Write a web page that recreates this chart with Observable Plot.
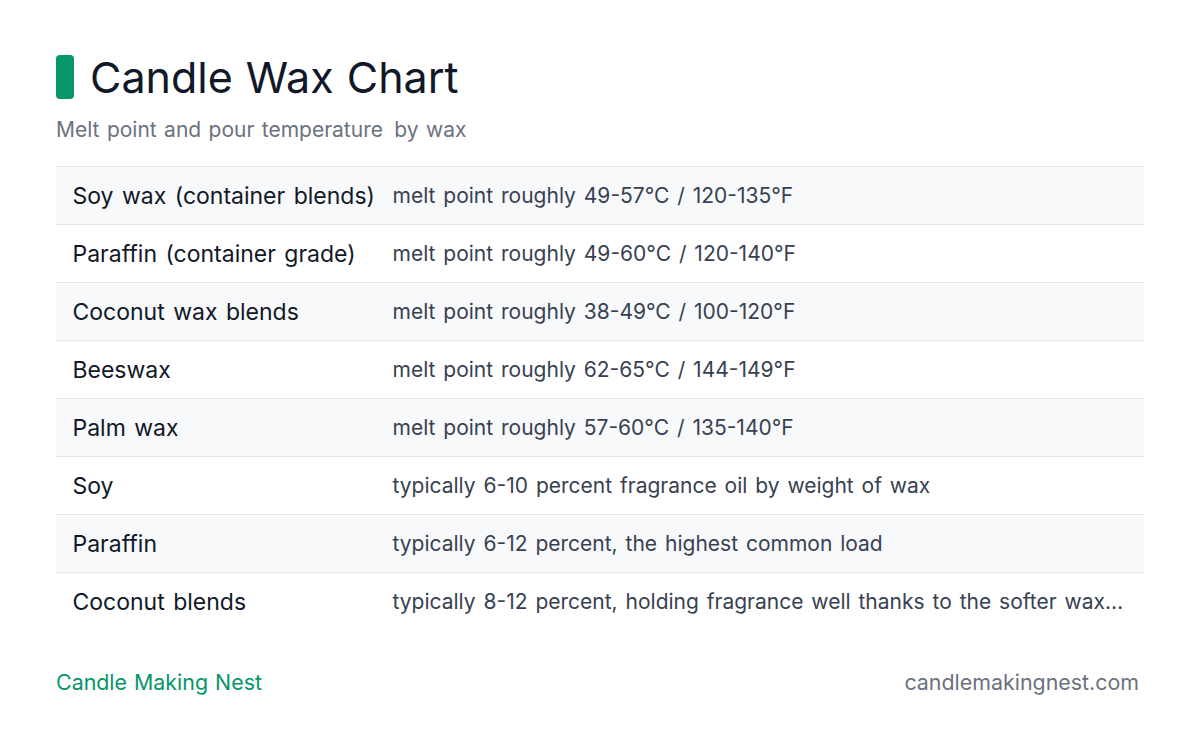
<!DOCTYPE html>
<html>
<head>
<meta charset="utf-8">
<script src="https://cdn.jsdelivr.net/npm/d3@7"></script>
<script src="https://cdn.jsdelivr.net/npm/@observablehq/plot@0.6"></script>
<style>
  html, body { margin: 0; padding: 0; background: #ffffff; }
  body { width: 1200px; height: 744px; position: relative; overflow: hidden; font-family: Inter, "Noto Sans", sans-serif; }
  .accent { position: absolute; left: 56px; top: 55px; width: 18px; height: 44px; border-radius: 4px; background: #059669; }
  .title { position: absolute; left: 90px; top: 53px; font-size: 43px; line-height: 48px; color: #111827; word-spacing: 1px; white-space: nowrap; }
  .subtitle { position: absolute; left: 56px; top: 117px; font-size: 21px; line-height: 26px; color: #6b7280; word-spacing: 1.5px; white-space: pre; }
  .subtitle span { margin-left: 4px; }
  #chart { position: absolute; left: 56px; top: 166px; }
  .foot-left { position: absolute; left: 56px; top: 668px; font-size: 21.4px; line-height: 28px; color: #059669; word-spacing: 1px; white-space: nowrap; }
  .foot-right { position: absolute; right: 61px; top: 668px; font-size: 21.4px; line-height: 28px; color: #6b7280; white-space: nowrap; }
</style>
</head>
<body>
<div class="accent"></div>
<div class="title">Candle Wax Chart</div>
<div class="subtitle">Melt point and pour temperature <span>by wax</span></div>
<div id="chart"></div>
<div class="foot-left">Candle Making Nest</div>
<div class="foot-right">candlemakingnest.com</div>
<script>
const labels = [
  "Soy wax (container blends)",
  "Paraffin (container grade)",
  "Coconut wax blends",
  "Beeswax",
  "Palm wax",
  "Soy",
  "Paraffin",
  "Coconut blends"
];
const details = [
  "melt point roughly 49-57°C / 120-135°F",
  "melt point roughly 49-60°C / 120-140°F",
  "melt point roughly 38-49°C / 100-120°F",
  "melt point roughly 62-65°C / 144-149°F",
  "melt point roughly 57-60°C / 135-140°F",
  "typically 6-10 percent fragrance oil by weight of wax",
  "typically 6-12 percent, the highest common load",
  "typically 8-12 percent, holding fragrance well thanks to the softer wax…"
];

const W = 1088, ROW_H = 58;
const rows = labels.map((label, i) => ({key: String(i), label, detail: details[i], shaded: i % 2 === 0}));

const chart = Plot.plot({
  width: W,
  height: ROW_H * rows.length,
  margin: 0,
  style: {fontFamily: "Inter, 'Noto Sans', sans-serif", background: "transparent", overflow: "visible", wordSpacing: "2px"},
  y: {type: "band", domain: rows.map(d => d.key), padding: 0, round: false, axis: null},
  marks: [
    Plot.cell(rows.filter(d => d.shaded), {y: "key", fill: "#f8f9fb", inset: 0}),
    Plot.ruleY(rows, {y: "key", dy: -ROW_H / 2, stroke: "#e5e7eb", strokeWidth: 1}),
    Plot.text(rows, {y: "key", text: "label", frameAnchor: "left", textAnchor: "start", dx: 16, dy: 1, fontSize: 23, fill: "#111827"}),
    Plot.text(rows, {y: "key", text: "detail", frameAnchor: "left", textAnchor: "start", dx: 336, dy: 1, fontSize: 21, fill: "#374151"})
  ]
});
document.getElementById("chart").appendChild(chart);
</script>
</body>
</html>
